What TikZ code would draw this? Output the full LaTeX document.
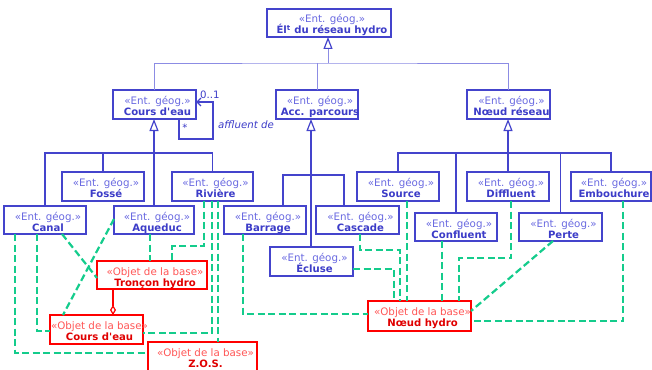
\documentclass[tikz,border=0pt]{standalone}
\usepackage{fontspec}
\setmainfont{DejaVu Sans}
\usetikzlibrary{arrows.meta,fit,calc}
\definecolor{entc}{RGB}{68,68,204}
\definecolor{enttxt}{RGB}{105,105,225}
\definecolor{entname}{RGB}{60,60,200}
\definecolor{topc}{RGB}{140,140,228}
\definecolor{basec}{RGB}{255,0,0}
\definecolor{basetxt}{RGB}{255,85,85}
\definecolor{basename}{RGB}{224,0,0}
\definecolor{depc}{RGB}{20,204,140}
\tikzset{
  entb/.style={draw=entc, line width=1.3pt, inner sep=0pt, outer sep=0pt, fill=white},
  baseb/.style={draw=basec, line width=1.3pt, inner sep=0pt, outer sep=0pt, fill=white},
  stereoE/.style={anchor=base, inner sep=0pt, text=enttxt, font=\fontsize{10.3}{12}\selectfont},
  nameE/.style={anchor=base, inner sep=0pt, text=entname, font=\fontsize{10.1}{12}\selectfont\bfseries},
  stereoB/.style={anchor=base, inner sep=0pt, text=basetxt, font=\fontsize{10.3}{12}\selectfont},
  nameB/.style={anchor=base, inner sep=0pt, text=basename, font=\fontsize{10.1}{12}\selectfont\bfseries},
  tree/.style={draw=entc, line width=1.3pt},
  topl/.style={draw=topc, line width=1pt},
  gentip/.style={-{Triangle[open, length=12pt, width=9pt, color=entc, line width=1.2pt]}},
  dep/.style={draw=depc, line width=2.2pt, dash pattern=on 7pt off 3.5pt},
  assoc/.style={draw=entc, line width=1.3pt},
  agg/.style={draw=basec, line width=1.2pt, -{Diamond[open, length=10pt, width=6pt]}},
  lab/.style={inner sep=0pt, text=entname, font=\fontsize{10.2}{12}\selectfont},
}
\newcommand\entbox[6]{%
  \node[entb, fit={(#2,#3)(#4,#5)}] (#1) {};
  \node[stereoE] at ({(#2+#4)/2+3},{#3+14}) {«Ent. géog.»};
  \node[nameE] at ({(#2+#4)/2+3},{#3+25}) {#6};}
\newcommand\basebox[6]{%
  \node[baseb, fit={(#2,#3)(#4,#5)}] (#1) {};
  \node[stereoB] at ({(#2+#4)/2+3},{#3+14}) {«Objet de la base»};
  \node[nameB] at ({(#2+#4)/2+3},{#3+25}) {#6};}
\begin{document}
\begin{tikzpicture}[x=1pt,y=-1pt]
\useasboundingbox (0,0) rectangle (652,369);
\clip (0,0) rectangle (652,369);
\entbox{elt}{267}{9}{391}{37}{Él\textsuperscript{t} du réseau hydro}
\entbox{cde}{113}{90}{196}{119}{Cours d\textquotesingle eau}
\entbox{acc}{276}{90}{358}{119}{Acc. parcours}
\entbox{nr}{467}{90}{550}{119}{Nœud réseau}
\entbox{fos}{62}{172}{144}{201}{Fossé}
\entbox{riv}{172}{172}{253}{201}{Rivière}
\entbox{can}{4}{206}{86}{234}{Canal}
\entbox{aq}{114}{206}{194}{234}{Aqueduc}
\entbox{bar}{224}{206}{306}{234}{Barrage}
\entbox{cas}{316}{206}{399}{234}{Cascade}
\entbox{ecl}{270}{247}{353}{276}{Écluse}
\entbox{src}{357}{172}{439}{201}{Source}
\entbox{dif}{467}{172}{549}{201}{Diffluent}
\entbox{emb}{571}{172}{651}{201}{Embouchure}
\entbox{con}{415}{213}{497}{241}{Confluent}
\entbox{per}{519}{213}{602}{241}{Perte}
\basebox{tro}{97}{261}{207}{289}{Tronçon hydro}
\basebox{cdb}{50}{315}{143}{344}{Cours d\textquotesingle eau}
\basebox{zos}{148}{342}{257}{375}{Z.O.S.}
\basebox{nh}{368}{301}{471}{331}{Nœud hydro}
% top generalization
\coordinate (jt) at (328,63);
\draw[topl] (cde.north) |- (jt) -| (nr.north);
\draw[topl] (acc.north) -- (acc.north |- jt);
\draw[topl, gentip] (jt) -- (jt |- elt.south);
% Cours d'eau tree
\coordinate (j1) at (154,153);
\draw[tree, gentip] (j1) -- (j1 |- cde.south);
\draw[tree] (can.north) |- (j1) -| (riv.north);
\draw[tree] (fos.north) -- (fos.north |- j1);
\draw[tree] (aq.north) -- (aq.north |- j1);
% Acc. parcours tree
\coordinate (j2) at (311,175);
\draw[tree, gentip] (j2) -- (j2 |- acc.south);
\draw[tree] ([xshift=59pt]bar.north west) |- (j2) -| ([xshift=28pt]cas.north west);
\draw[tree] (j2) -- (j2 |- ecl.north);
% Noeud reseau tree
\coordinate (j3) at (508,153);
\draw[tree, gentip] (j3) -- (j3 |- nr.south);
\draw[tree] (src.north) |- (j3) -| (emb.north);
\draw[tree] (con.north) -- (con.north |- j3);
\draw[tree] (dif.north) -- (dif.north |- j3);
\draw[tree] (per.north) -- (per.north |- j3);
% self association
\draw[assoc, -{Straight Barb[length=4pt, width=8pt]}] ([xshift=66pt]cde.south west) -- ++(0,20) -| ([xshift=17pt, yshift=-12pt]cde.north east) -- ([yshift=-12pt]cde.north east);
\node[lab, anchor=base west] (m1) at (200,98) {0..1};
\node[lab] (m2) at (185,128) {*};
\node[lab, anchor=base west, font=\fontsize{10.2}{12}\selectfont\itshape] (rl) at (218,128) {affluent de};
% aggregation
\draw[agg] ([xshift=16pt]tro.south west) -- ([xshift=63pt]cdb.north west);
% dependencies
\draw[dep] ([xshift=11pt]can.south west) |- ([yshift=-11pt]zos.north west);
\draw[dep] ([xshift=33pt]can.south west) |- ([yshift=13pt]cdb.south west);
\draw[dep] ([xshift=58pt]can.south west) -- ([yshift=11pt]tro.south west);
\draw[dep] ([yshift=-13pt]aq.north west) -- ([xshift=13pt]cdb.north west);
\draw[dep] ([xshift=36pt]aq.south west) -- ([xshift=53pt]tro.north west);
\draw[dep] ([xshift=32pt]riv.south west) -- ++(0,45) -| ([xshift=75pt]tro.north west);
\draw[dep] ([xshift=40pt]riv.south west) |- ([yshift=11pt]cdb.south east);
\draw[dep] ([xshift=46pt]riv.south west) -- ([xshift=70pt]zos.north west);
\draw[dep] ([xshift=19pt]bar.south west) |- ([yshift=-13pt]nh.north west);
\draw[dep] ([xshift=44pt]cas.south west) -- ++(0,16) -| ([xshift=32pt]nh.north west);
\draw[dep] ([yshift=-22pt]ecl.north east) -| ([xshift=26pt]nh.north west);
\draw[dep] ([xshift=50pt]src.south west) -- ([xshift=39pt]nh.north west);
\draw[dep] ([xshift=27pt]con.south west) -- ([xshift=74pt]nh.north west);
\draw[dep] ([xshift=44pt]dif.south west) -- ++(0,57) -| ([xshift=91pt]nh.north west);
\draw[dep] ([xshift=34pt]per.south west) -- ([yshift=-10pt]nh.north east);
\draw[dep] ([xshift=52pt]emb.south west) |- ([yshift=10pt]nh.south east);
\end{tikzpicture}
\end{document}
